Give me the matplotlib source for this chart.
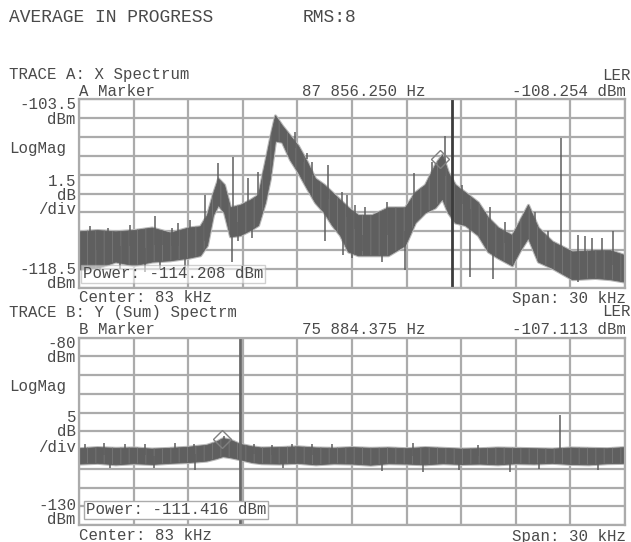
import matplotlib
matplotlib.use("Agg")
import matplotlib.pyplot as plt

# ---- data (frequency in kHz, level in dBm) ----
top_freq = [68.0, 69.0, 70.0, 71.0, 72.0, 73.0, 74.0, 74.65, 75.03, 75.36, 75.64, 75.97,
            76.3, 76.85, 77.4, 77.84, 78.22, 78.49, 78.77, 79.15, 79.59, 80.03, 80.53, 80.97,
            81.46, 81.9, 82.34, 82.78, 83.33, 84.1, 84.98, 85.91, 86.46, 87.01, 87.56, 87.95,
            88.27, 88.66, 89.21, 89.92, 90.47, 91.02, 91.79, 92.23, 92.67, 93.22, 93.99,
            95.09, 96.35, 97.18, 98.0]
top_hi = [-114.0, -113.9, -114.0, -113.9, -113.7, -114.1, -113.7, -113.6, -112.7, -111.0, -109.8, -110.3,
          -112.1, -111.9, -111.5, -111.1, -108.5, -106.6, -104.8, -105.6, -106.4, -107.2, -108.5, -109.8,
          -110.3, -110.9, -111.5, -112.1, -112.7, -112.7, -112.1, -112.1, -110.9, -110.3, -108.7, -107.9,
          -109.3, -110.3, -110.9, -111.7, -112.9, -113.7, -114.3, -113.1, -111.9, -113.7, -114.8,
          -115.6, -115.5, -115.5, -115.9]
top_lo = [-117.0, -116.9, -116.4, -116.7, -116.4, -116.3, -116.1, -115.9, -115.1, -112.7, -111.9, -112.5,
          -114.4, -114.3, -113.9, -113.5, -111.7, -109.8, -106.8, -106.9, -108.3, -109.3, -110.6, -111.7,
          -112.5, -113.5, -114.3, -115.6, -115.9, -115.9, -115.9, -115.1, -113.3, -112.5, -112.1, -111.4,
          -112.5, -113.3, -113.5, -114.3, -115.6, -116.1, -116.7, -115.5, -114.5, -116.4, -116.9,
          -117.8, -117.7, -117.8, -118.0]
top_spike_freq = [68.6, 68.97, 69.61, 70.07, 70.8, 71.35, 72.18, 72.63, 73.09, 73.46, 74.1, 74.65,
                  74.92, 75.64, 76.46, 77.29, 77.84, 79.32, 79.87, 80.31, 80.53, 80.8, 81.68, 82.45,
                  82.7, 83.16, 83.71, 84.92, 86.41, 87.4, 88.11, 89.04, 89.76, 90.31, 90.58, 91.41,
                  93.05, 93.77, 94.48, 95.42, 95.8, 96.19, 96.74, 97.34,
                  68.33, 69.15, 70.25, 71.63, 72.45, 73.82, 76.4, 76.74, 77.5, 81.52, 82.5, 83.0,
                  83.55, 84.65, 85.91, 89.48, 90.75, 95.42]
top_spike_tip = [-113.6, -114.0, -113.75, -114.3, -113.5, -114.0, -112.8, -114.0, -113.75, -113.35, -113.1, -113.75,
                 -111.1, -108.6, -108.1, -109.8, -109.3, -106.2, -106.1, -108.5, -107.8, -108.5, -108.7, -110.9,
                 -111.1, -111.9, -112.1, -111.7, -109.4, -108.5, -106.4, -110.3, -111.7, -112.5, -112.1, -113.3,
                 -112.5, -114.0, -106.6, -114.3, -114.4, -114.5, -114.5, -114.0,
                 -117.2, -117.1, -117.0, -117.2, -117.0, -116.9, -116.4, -114.8, -114.5, -114.8, -115.9, -116.1,
                 -115.6, -116.4, -117.1, -117.6, -117.8, -118.0]

bot_freq = [68, 69, 70, 71, 72, 73, 74, 75, 75.5, 75.9, 76.3, 76.8, 77.5, 78, 79, 80, 81, 82, 83,
            84, 85, 86, 87, 88, 89, 90, 91, 92, 93, 94, 95, 96, 97, 98]
bot_hi = [-109.5, -109.2, -109.4, -109.3, -109.6, -109.4, -109.1, -108.6, -107.8, -106.8, -107.2, -108.3,
          -109.0, -109.3, -109.2, -109.0, -109.3, -109.4, -109.2, -109.4, -109.3, -109.5, -109.2, -109.4,
          -109.6, -109.5, -109.3, -109.4, -109.5, -109.6, -109.3, -109.4, -109.5, -109.2]
bot_lo = [-113.6, -113.4, -113.8, -113.5, -113.7, -113.4, -113.2, -112.8, -112.2, -111.6, -111.9, -112.4,
          -113.2, -113.5, -113.6, -113.4, -113.8, -113.5, -113.6, -113.9, -113.5, -113.6, -113.8, -113.5,
          -113.7, -113.6, -113.8, -113.5, -113.6, -113.4, -113.7, -113.8, -113.5, -113.4]
bot_spike_freq = [68.33, 69.4, 70.5, 71.6, 73.27, 74.3, 75.95, 77.6, 78.6, 79.7, 80.8, 81.9,
                  86.35, 89.9, 94.45,
                  69.7, 72.1, 74.4, 79.2, 84.65, 86.9, 88.9, 91.7, 93.3, 96.5]
bot_spike_tip = [-108.3, -108.1, -108.5, -108.3, -108.1, -108.4, -106.3, -108.4, -108.6, -108.3, -108.5, -108.4,
                 -108.1, -108.7, -100.6,
                 -114.8, -114.9, -115.3, -114.9, -115.5, -115.9, -115.3, -115.9, -115.0, -115.3]

panels = [
    dict(freq=top_freq, hi=top_hi, lo=top_lo, sf=top_spike_freq, st=top_spike_tip,
         ref=-103.5, per_div=1.5, marker=(87.85625, -108.254), cursor=88.48, ccol="#3c3c3c"),
    dict(freq=bot_freq, hi=bot_hi, lo=bot_lo, sf=bot_spike_freq, st=bot_spike_tip,
         ref=-80.0, per_div=5.0, marker=(75.884375, -107.113), cursor=76.85, ccol="#6a6a6a"),
]

W, H = 631, 542
plt.rcParams["hatch.linewidth"] = 0.7
fig = plt.figure(figsize=(W / 100, H / 100), dpi=100)
FONT = "Liberation Mono"
TXT = "#4a4a4a"
GRID = "#ababab"
DARK = "#5f5f5f"
LIGHT = "#b8b8b8"


def put(x, y, s, ha="left", size=11.3):
    fig.text(x / W, 1 - y / H, s, ha=ha, va="center", family=FONT, fontsize=size, color=TXT)


axes_px = [(99, 288), (337.7, 525)]
for p, (y0, y1) in zip(panels, axes_px):
    ax = fig.add_axes([79 / W, 1 - y1 / H, (625 - 79) / W, (y1 - y0) / H])
    lo_lim = p["ref"] - 10 * p["per_div"]
    ax.set_xlim(68, 98)
    ax.set_ylim(lo_lim, p["ref"])
    ax.set_xticks([68 + 3 * i for i in range(11)])
    ax.set_yticks([lo_lim + p["per_div"] * i for i in range(11)])
    ax.grid(True, color=GRID, linewidth=1.6)
    ax.tick_params(length=0, labelbottom=False, labelleft=False)
    for s in ax.spines.values():
        s.set_color(GRID)
        s.set_linewidth(1.6)
    ax.set_axisbelow(True)

    ax.fill_between(p["freq"], p["hi"], p["lo"], color=LIGHT, linewidth=2.2, edgecolor=LIGHT)
    ax.fill_between(p["freq"], p["hi"], p["lo"], color=DARK, linewidth=0.6, edgecolor=DARK)
    # streaky texture over the noise band
    ax.fill_between(p["freq"], p["hi"], p["lo"], facecolor="none", edgecolor="#747474",
                    hatch="||", linewidth=0)
    # spikes from the band centre out to the read tip
    for f, tip in zip(p["sf"], p["st"]):
        base = None
        for i in range(len(p["freq"]) - 1):
            if p["freq"][i] <= f <= p["freq"][i + 1]:
                base = (p["hi"][i] + p["lo"][i]) / 2
                break
        ax.vlines(f, base, tip, color=DARK, linewidth=1.1)

    ax.axvline(p["cursor"], color=p["ccol"], linewidth=2)
    mf, mv = p["marker"]
    ax.plot([mf], [mv], marker="D", markersize=9, markerfacecolor="none",
            markeredgecolor="#808080", markeredgewidth=1)

# ---- text ----
put(9, 18, "AVERAGE IN PROGRESS", size=13)
put(303, 18, "RMS:8", size=13)

put(9, 75, "TRACE A: X Spectrum")
put(631, 75, "LER", ha="right")
put(79, 91, "A Marker")
put(302, 91, "87 856.250 Hz")
put(626, 91, "-108.254 dBm", ha="right")
put(76, 104, "-103.5", ha="right")
put(76, 120, "dBm", ha="right")
put(9, 149, "LogMag")
put(76, 181, "1.5", ha="right")
put(76, 195, "dB", ha="right")
put(76, 209, "/div", ha="right")
put(76, 270, "-118.5", ha="right")
put(76, 284, "dBm", ha="right")
fig.text(83 / W, 1 - 274 / H, "Power: -114.208 dBm", ha="left", va="center", family=FONT,
         fontsize=11.3, color=TXT,
         bbox=dict(facecolor="white", edgecolor=GRID, alpha=0.55, pad=1.2, linewidth=1))
put(79, 298, "Center: 83 kHz")
put(626, 298, "Span: 30 kHz", ha="right")

put(9, 313, "TRACE B: Y (Sum) Spectrm")
put(631, 312, "LER", ha="right")
put(79, 329, "B Marker")
put(302, 329, "75 884.375 Hz")
put(626, 329, "-107.113 dBm", ha="right")
put(76, 343, "-80", ha="right")
put(76, 358, "dBm", ha="right")
put(9, 387, "LogMag")
put(76, 417, "5", ha="right")
put(76, 432, "dB", ha="right")
put(76, 447, "/div", ha="right")
put(76, 506, "-130", ha="right")
put(76, 520, "dBm", ha="right")
fig.text(86 / W, 1 - 510 / H, "Power: -111.416 dBm", ha="left", va="center", family=FONT,
         fontsize=11.3, color=TXT,
         bbox=dict(facecolor="white", edgecolor=GRID, pad=1.2, linewidth=1))
put(79, 536, "Center: 83 kHz")
put(626, 536, "Span: 30 kHz", ha="right")

fig.savefig("out.png", dpi=100, facecolor="white")
